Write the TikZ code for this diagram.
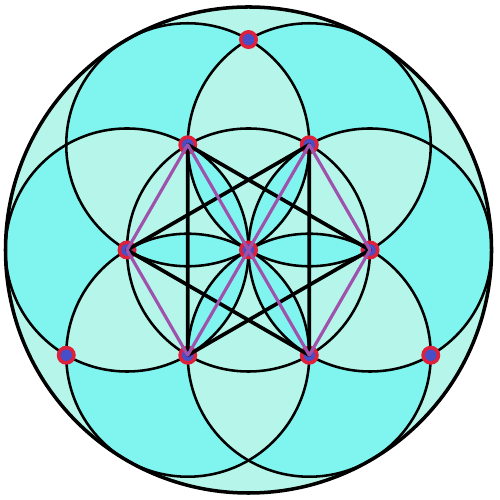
\documentclass[tikz,border=0pt]{standalone}
\usetikzlibrary{calc}
\definecolor{palecyan}{RGB}{182,245,234}
\definecolor{brightcyan}{RGB}{128,245,240}
\definecolor{linkpurple}{RGB}{158,82,172}
\definecolor{dotred}{RGB}{222,32,58}
\definecolor{dotblue}{RGB}{72,78,200}
\begin{document}
\begin{tikzpicture}
[
    ring/.style={line width=1.45pt},
    bar/.style={line width=2.1pt,line join=round},
    link/.style={line width=1.8pt,linkpurple,line cap=round,line join=round}
]
\useasboundingbox (0,0) rectangle (10,10);
% scale
\pgfmathsetmacro{\r}{2.43}
\pgfmathsetmacro{\s}{sqrt(3)*\r}
\coordinate (O) at (4.97,5.0);

% hexagon points
\coordinate (R) at ($(O)+(0:\r)$);
\coordinate (UR) at ($(O)+(60:\r)$);
\coordinate (UL) at ($(O)+(120:\r)$);
\coordinate (L) at ($(O)+(180:\r)$);
\coordinate (LL) at ($(O)+(240:\r)$);
\coordinate (LR) at ($(O)+(300:\r)$);
% outer tips
\coordinate (T) at ($(O)+(90:\s)$);
\coordinate (TL) at ($(O)+(210:\s)$);
\coordinate (TR) at ($(O)+(330:\s)$);

% shading
\fill[palecyan] (O) circle (2*\r);
\fill[brightcyan,even odd rule] (R) circle (\r) (UR) circle (\r) (UL) circle (\r)
    (L) circle (\r) (LL) circle (\r) (LR) circle (\r);

% circles
\draw[ring] (O) circle (\r);
\foreach \c in {R,UR,UL,L,LL,LR}
    \draw[ring] (\c) circle (\r);
\draw[line width=2pt] (O) circle (2*\r);

% dots
\foreach \c in {O,R,UR,UL,L,LL,LR,T,TL,TR} {
    \fill[dotred] (\c) circle (0.19);
    \fill[dotblue] (\c) circle (0.115);
}

% star
\draw[bar] (UL) -- (R) -- (LL) -- cycle;
\draw[bar] (UR) -- (L) -- (LR) -- cycle;

% rhombi
\draw[link] (L) -- (UL) -- (O) -- (UR) -- (R);
\draw[link] (L) -- (LL) -- (O) -- (LR) -- (R);
\end{tikzpicture}
\end{document}
